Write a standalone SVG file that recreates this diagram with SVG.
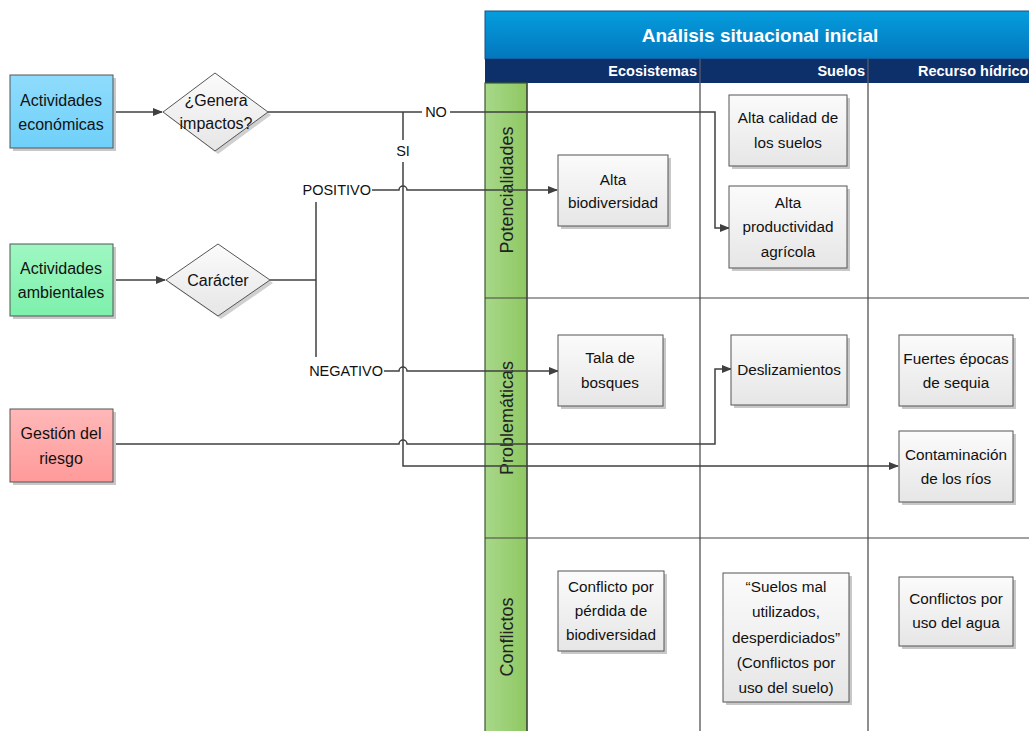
<svg xmlns="http://www.w3.org/2000/svg" width="1029" height="731" viewBox="0 0 1029 731">
<defs>
<linearGradient id="gBox" x1="0" y1="0" x2="0" y2="1"><stop offset="0" stop-color="#fbfbfb"/><stop offset="1" stop-color="#e6e6e6"/></linearGradient>
<linearGradient id="gBlue" x1="0" y1="0" x2="0" y2="1"><stop offset="0" stop-color="#8fdcfd"/><stop offset="1" stop-color="#6fd0f9"/></linearGradient>
<linearGradient id="gGreen" x1="0" y1="0" x2="0" y2="1"><stop offset="0" stop-color="#9ef7c2"/><stop offset="1" stop-color="#7ef0ac"/></linearGradient>
<linearGradient id="gPink" x1="0" y1="0" x2="0" y2="1"><stop offset="0" stop-color="#ffb8b8"/><stop offset="1" stop-color="#ff9a9a"/></linearGradient>
<linearGradient id="gTitle" x1="0" y1="0" x2="0" y2="1"><stop offset="0" stop-color="#059ede"/><stop offset="1" stop-color="#0376bd"/></linearGradient>
<linearGradient id="gLane" x1="0" y1="0" x2="1" y2="0"><stop offset="0" stop-color="#a8d88a"/><stop offset="1" stop-color="#8fc862"/></linearGradient>
<marker id="arr" markerWidth="10" markerHeight="10" refX="9" refY="5" orient="auto" markerUnits="userSpaceOnUse"><path d="M0,1 L10,5 L0,9 Z" fill="#404040"/></marker>
</defs>
<style>
.t{font-family:"Liberation Sans",Arial,sans-serif;font-size:15.3px;fill:#111;text-anchor:middle}
.tl{font-family:"Liberation Sans",Arial,sans-serif;font-size:16px;fill:#111;text-anchor:middle}
.lab{font-family:"Liberation Sans",Arial,sans-serif;font-size:14.5px;fill:#111}
.hd{font-family:"Liberation Sans",Arial,sans-serif;font-size:14.5px;font-weight:bold;fill:#fff}
.box{fill:url(#gBox);stroke:#555;stroke-width:1}
.sh{fill:#c8c8c8}
.bd{stroke:#444;stroke-width:1.2;fill:none}
.c{stroke:#404040;stroke-width:1.5;fill:none}
.lane{font-family:"Liberation Sans",Arial,sans-serif;font-size:18px;fill:#222;text-anchor:middle}
</style>
<rect width="1029" height="731" fill="#fff"/>
<g id="table">
<rect x="485" y="11" width="550" height="48" fill="url(#gTitle)" stroke="#1a4f80" stroke-width="1"/>
<text x="760" y="42" font-family="Liberation Sans, Arial, sans-serif" font-size="19" font-weight="bold" fill="#fff" text-anchor="middle">Análisis situacional inicial</text>
<rect x="485" y="59" width="550" height="24" fill="#0d2f6a"/>
<line x1="700" y1="59" x2="700" y2="83" stroke="#6d6d6d" stroke-width="1"/>
<line x1="868" y1="59" x2="868" y2="83" stroke="#6d6d6d" stroke-width="1"/>
<text class="hd" x="697" y="76" text-anchor="end">Ecosistemas</text>
<text class="hd" x="865" y="76" text-anchor="end">Suelos</text>
<text class="hd" x="918" y="76">Recurso hídrico</text>
<rect x="485" y="83" width="42" height="660" fill="url(#gLane)" stroke="#3c5a2c" stroke-width="1.2"/>
<line class="bd" x1="485" y1="298" x2="1035" y2="298"/>
<line class="bd" x1="485" y1="538" x2="1035" y2="538"/>
<line class="bd" x1="527" y1="83" x2="527" y2="731"/>
<line class="bd" x1="700" y1="83" x2="700" y2="731"/>
<line class="bd" x1="868" y1="83" x2="868" y2="731"/>
<text class="lane" transform="translate(513,190) rotate(-90)">Potencialidades</text>
<text class="lane" transform="translate(513,418) rotate(-90)">Problemáticas</text>
<text class="lane" transform="translate(513,637) rotate(-90)">Conflictos</text>
</g>
<g id="connectors">
<path class="c" d="M113,112 H162" marker-end="url(#arr)"/>
<path class="c" d="M113,280 H165" marker-end="url(#arr)"/>
<path class="c" d="M268,112 H715 V228 H729" marker-end="url(#arr)"/>
<path class="c" d="M403,112 V466 H898" marker-end="url(#arr)"/>
<path class="c" d="M270,280 H316"/>
<path class="c" d="M316,202 V357"/>
<path class="c" d="M372,190 H399 a4,4 0 0 1 8,0 H557" marker-end="url(#arr)"/>
<path class="c" d="M384,371 H399 a4,4 0 0 1 8,0 H558" marker-end="url(#arr)"/>
<path class="c" d="M113,444 H399 a4,4 0 0 1 8,0 H715 V369 H731" marker-end="url(#arr)"/>
<rect x="422" y="103" width="28" height="18" fill="#fff"/>
<text class="lab" x="436" y="117" text-anchor="middle">NO</text>
<rect x="394" y="140" width="18" height="22" fill="#fff"/>
<text class="lab" x="403" y="156" text-anchor="middle">SI</text>
<text class="lab" x="371" y="195" text-anchor="end">POSITIVO</text>
<text class="lab" x="383" y="376" text-anchor="end">NEGATIVO</text>
</g>
<g id="n-economicas"><rect class="sh" x="13" y="78" width="103" height="73"/><rect x="10" y="75" width="103" height="73" fill="url(#gBlue)" stroke="#555"/><text class="tl" x="61" y="106">Actividades</text><text class="tl" x="61" y="130">económicas</text></g>
<g id="n-genera"><polygon points="218,76 271,115 218,154 166,115" fill="#d0d0d0"/><polygon points="215,73 268,112 215,151 163,112" fill="url(#gBox)" stroke="#555"/><text class="tl" x="216" y="106">¿Genera</text><text class="tl" x="216" y="129">impactos?</text></g>
<g id="n-ambientales"><rect class="sh" x="13" y="247" width="103" height="72"/><rect x="10" y="244" width="103" height="72" fill="url(#gGreen)" stroke="#555"/><text class="tl" x="61" y="274">Actividades</text><text class="tl" x="61" y="298">ambientales</text></g>
<g id="n-caracter"><polygon points="221,247 273,283 221,319 169,283" fill="#d0d0d0"/><polygon points="218,244 270,280 218,316 166,280" fill="url(#gBox)" stroke="#555"/><text class="tl" x="218" y="286">Carácter</text></g>
<g id="n-gestion"><rect class="sh" x="13" y="412" width="103" height="73"/><rect x="10" y="409" width="103" height="73" fill="url(#gPink)" stroke="#555"/><text class="tl" x="61" y="439">Gestión del</text><text class="tl" x="61" y="464">riesgo</text></g>
<g id="n-biodiv"><rect class="sh" x="561" y="158" width="110" height="71"/><rect class="box" x="558" y="155" width="110" height="71"/><text class="t" x="613" y="185">Alta</text><text class="t" x="613" y="208">biodiversidad</text></g>
<g id="n-calidad"><rect class="sh" x="732" y="98" width="118" height="71"/><rect class="box" x="729" y="95" width="118" height="71"/><text class="t" x="788" y="123">Alta calidad de</text><text class="t" x="788" y="148">los suelos</text></g>
<g id="n-productividad"><rect class="sh" x="732" y="189" width="118" height="82"/><rect class="box" x="729" y="186" width="118" height="82"/><text class="t" x="788" y="208">Alta</text><text class="t" x="788" y="232">productividad</text><text class="t" x="788" y="257">agrícola</text></g>
<g id="n-tala"><rect class="sh" x="561" y="338" width="105" height="71"/><rect class="box" x="558" y="335" width="105" height="71"/><text class="t" x="610" y="363">Tala de</text><text class="t" x="610" y="388">bosques</text></g>
<g id="n-deslizamientos"><rect class="sh" x="734" y="338" width="116" height="70"/><rect class="box" x="731" y="335" width="116" height="70"/><text class="t" x="789" y="375">Deslizamientos</text></g>
<g id="n-sequia"><rect class="sh" x="902" y="338" width="114" height="71"/><rect class="box" x="899" y="335" width="114" height="71"/><text class="t" x="956" y="364">Fuertes épocas</text><text class="t" x="956" y="388">de sequia</text></g>
<g id="n-contaminacion"><rect class="sh" x="902" y="434" width="114" height="71"/><rect class="box" x="899" y="431" width="114" height="71"/><text class="t" x="956" y="460">Contaminación</text><text class="t" x="956" y="484">de los ríos</text></g>
<g id="n-conflicto-bio"><rect class="sh" x="561" y="574" width="106" height="80"/><rect class="box" x="558" y="571" width="106" height="80"/><text class="t" x="611" y="592">Conflicto por</text><text class="t" x="611" y="616">pérdida de</text><text class="t" x="611" y="640">biodiversidad</text></g>
<g id="n-suelos-mal"><rect class="sh" x="726" y="576" width="126" height="129"/><rect class="box" x="723" y="573" width="126" height="129"/><text class="t" x="786" y="592">“Suelos mal</text><text class="t" x="786" y="617">utilizados,</text><text class="t" x="786" y="643">desperdiciados”</text><text class="t" x="786" y="668">(Conflictos por</text><text class="t" x="786" y="693">uso del suelo)</text></g>
<g id="n-agua"><rect class="sh" x="902" y="580" width="114" height="69"/><rect class="box" x="899" y="577" width="114" height="69"/><text class="t" x="956" y="604">Conflictos por</text><text class="t" x="956" y="628">uso del agua</text></g>
</svg>
